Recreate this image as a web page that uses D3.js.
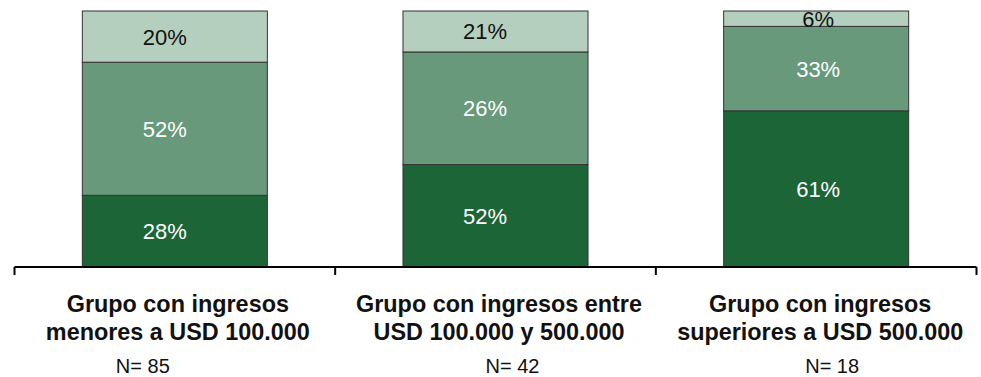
<!DOCTYPE html>
<html>
<head>
<meta charset="utf-8">
<script src="https://cdn.jsdelivr.net/npm/d3@7/dist/d3.min.js"></script>
<style>
  html, body { margin: 0; padding: 0; background: #ffffff; }
  svg { display: block; font-family: "Liberation Sans", Arial, sans-serif; }
</style>
</head>
<body>
<svg id="chart" width="981" height="377"></svg>
<script>
// ---- Data ----
const categories = ["g1", "g2", "g3"];
const categoryLine1 = ["Grupo con ingresos", "Grupo con ingresos entre", "Grupo con ingresos"];
const categoryLine2 = ["menores a USD 100.000", "USD 100.000 y 500.000", "superiores a USD 500.000"];
const sampleSizes = ["N= 85", "N= 42", "N= 18"];
// segment heights as drawn (bottom to top)
const darkValues  = [28, 40, 61];
const midValues   = [52, 44, 33];
const lightValues = [20, 16, 6];
// labels as printed in the segments
const darkLabels  = ["28%", "52%", "61%"];
const midLabels   = ["52%", "26%", "33%"];
const lightLabels = ["20%", "21%", "6%"];

// ---- Layout / style ----
const seriesKeys = ["dark", "mid", "light"];
const seriesColors = { dark: "#1c6537", mid: "#67997a", light: "#b4cfbe" };
const labelColors = { dark: "#ffffff", mid: "#ffffff", light: "#111111" };
const pctDx = [-10, -10.5, 2];     // horizontal nudges of segment labels
const catDx = [3, 3.5, 4];         // nudges of category labels
const nDx = [-32, 17, 16];         // nudges of N labels

const table = categories.map((c, i) => ({
  cat: c, idx: i, dark: darkValues[i], mid: midValues[i], light: lightValues[i],
  labels: { dark: darkLabels[i], mid: midLabels[i], light: lightLabels[i] }
}));

const svg = d3.select("#chart");
const axisY = 267;

const x = d3.scaleBand().domain(categories).range([14.5, 976.5])
  .paddingInner(0.423).paddingOuter(0.2115);
const y = d3.scaleLinear().domain([0, 100]).range([axisY, 11]);

const stacked = d3.stack().keys(seriesKeys)(table);

const groups = svg.selectAll("g.series").data(stacked).enter().append("g")
  .attr("class", "series")
  .attr("fill", d => seriesColors[d.key]);

groups.selectAll("rect").data(d => d.map(v => ({ v, key: d.key }))).enter().append("rect")
  .attr("x", d => x(d.v.data.cat))
  .attr("width", x.bandwidth())
  .attr("y", d => y(d.v[1]))
  .attr("height", d => y(d.v[0]) - y(d.v[1]))
  .attr("stroke", "#333333")
  .attr("stroke-width", 1);

groups.selectAll("text").data(d => d.map(v => ({ v, key: d.key }))).enter().append("text")
  .attr("x", d => x(d.v.data.cat) + x.bandwidth() / 2 + pctDx[d.v.data.idx])
  .attr("y", d => (y(d.v[0]) + y(d.v[1])) / 2)
  .attr("dy", "0.36em")
  .attr("text-anchor", "middle")
  .attr("font-size", 22)
  .attr("fill", d => labelColors[d.key])
  .text(d => d.v.data.labels[d.key]);

// axis line with ticks at category boundaries
const r = x.range();
const step = x.step();
const boundaries = d3.range(categories.length + 1).map(i => r[0] + i * step);
svg.append("line")
  .attr("x1", r[0]).attr("x2", r[1])
  .attr("y1", axisY).attr("y2", axisY)
  .attr("stroke", "#000").attr("stroke-width", 2);
svg.selectAll("line.tick").data(boundaries).enter().append("line")
  .attr("class", "tick")
  .attr("x1", d => d).attr("x2", d => d)
  .attr("y1", axisY).attr("y2", axisY + 8)
  .attr("stroke", "#000").attr("stroke-width", 2);

// category labels
const cx = c => x(c) + x.bandwidth() / 2;
svg.selectAll("text.l1").data(categories).enter().append("text")
  .attr("class", "l1")
  .attr("x", (d, i) => cx(d) + catDx[i]).attr("y", 312)
  .attr("text-anchor", "middle").attr("font-size", 23.4).attr("font-weight", "bold")
  .attr("fill", "#111")
  .text((d, i) => categoryLine1[i]);
svg.selectAll("text.l2").data(categories).enter().append("text")
  .attr("class", "l2")
  .attr("x", (d, i) => cx(d) + catDx[i]).attr("y", 340)
  .attr("text-anchor", "middle").attr("font-size", 23.4).attr("font-weight", "bold")
  .attr("fill", "#111")
  .text((d, i) => categoryLine2[i]);
svg.selectAll("text.n").data(categories).enter().append("text")
  .attr("class", "n")
  .attr("x", (d, i) => cx(d) + nDx[i]).attr("y", 373)
  .attr("text-anchor", "middle").attr("font-size", 20)
  .attr("fill", "#111")
  .text((d, i) => sampleSizes[i]);
</script>
</body>
</html>
